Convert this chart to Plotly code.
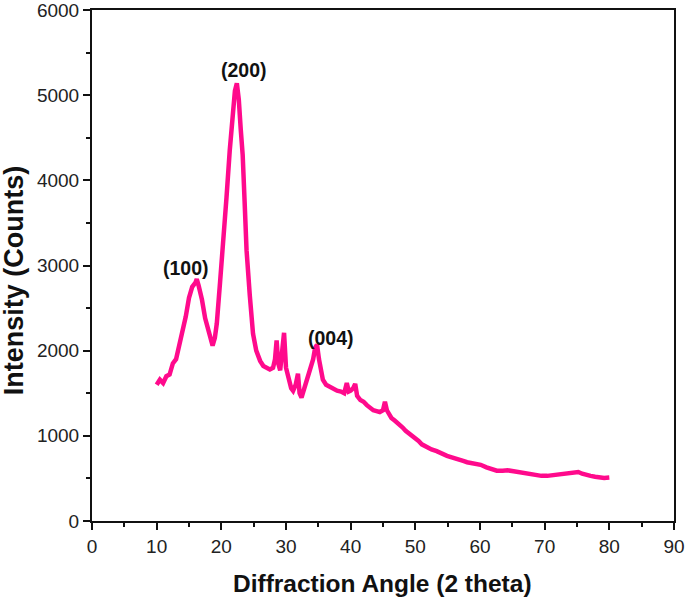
import plotly.graph_objects as go

two_theta = [10.0, 10.5, 11.0, 11.5, 12.0, 12.5, 13.0, 13.5, 14.0, 14.5, 15.0, 15.5, 16.0, 16.2, 16.5,
             17.0, 17.5, 18.0, 18.3, 18.65, 19.0, 19.3, 19.8, 20.3, 20.8, 21.3, 21.8, 22.1, 22.4, 22.7,
             23.0, 23.3, 23.6, 23.9, 24.4, 24.9, 25.4, 26.0, 26.5, 27.0, 27.5, 28.0, 28.3, 28.55, 28.8,
             29.1, 29.4, 29.7, 30.0, 30.4, 30.8, 31.1, 31.5, 31.85, 32.1, 32.4, 32.8, 33.2, 33.7, 34.2,
             34.5, 34.8, 35.1, 35.4, 35.7, 36.2, 36.8, 37.4, 37.9, 38.5, 39.0, 39.4, 39.7, 40.0, 40.4,
             40.7, 41.0, 41.5, 42.0, 42.5, 43.0, 43.5, 44.0, 44.5, 45.0, 45.3, 45.6, 45.9, 46.3, 46.8,
             47.5, 48.0, 48.5, 49.0, 49.7, 50.5, 51.0, 51.8, 52.5, 53.3, 54.0, 54.9, 55.5, 56.5, 57.4,
             58.0, 59.0, 60.1, 61.0, 62.0, 62.6, 63.5, 64.3, 65.2, 66.0, 66.8, 67.8, 68.5, 69.5, 70.4,
             71.5, 72.2, 72.9, 73.5, 74.3, 75.2, 75.8, 76.5, 77.1, 77.8, 78.5, 79.2, 80.0]

intensity = [1600, 1660, 1620, 1700, 1720, 1850, 1900, 2050, 2200, 2400, 2620, 2750, 2800, 2840, 2760,
             2600, 2380, 2230, 2120, 2060, 2150, 2320, 2800, 3260, 3800, 4350, 4800, 5050, 5140, 4950,
             4600, 4300, 3750, 3180, 2650, 2200, 2000, 1880, 1820, 1800, 1780, 1800, 1900, 2120, 1850,
             1770, 1950, 2210, 1800, 1650, 1560, 1530, 1600, 1730, 1500, 1450, 1560, 1640, 1760, 1900,
             2030, 2070, 1900, 1750, 1660, 1600, 1570, 1540, 1530, 1520, 1500, 1620, 1520, 1530, 1560,
             1610, 1470, 1420, 1400, 1360, 1330, 1300, 1290, 1280, 1300, 1400, 1300, 1250, 1210, 1180,
             1140, 1100, 1060, 1030, 1000, 940, 900, 860, 840, 820, 790, 765, 750, 720, 705,
             690, 680, 660, 630, 600, 590, 590, 595, 585, 575, 555, 540, 535, 530, 530,
             540, 550, 556, 560, 565, 575, 555, 535, 530, 520, 510, 505, 510]

peak_labels = ["(100)", "(200)", "(004)"]
peak_x = [14.5, 23.5, 36.95]
peak_y = [2970, 5300, 2150]

x_ticks = [0, 10, 20, 30, 40, 50, 60, 70, 80, 90]
y_ticks = [0, 1000, 2000, 3000, 4000, 5000, 6000]

FONT = "Liberation Sans, Arial, sans-serif"

fig = go.Figure()
fig.add_trace(go.Scatter(x=two_theta, y=intensity, mode="lines",
                         line=dict(color="#FF0A8C", width=4.5), showlegend=False))

for lab, px, py in zip(peak_labels, peak_x, peak_y):
    fig.add_annotation(x=px, y=py, text="<b>%s</b>" % lab, showarrow=False,
                       font=dict(family=FONT, size=19.5, color="#111111"))

# axis titles
fig.add_annotation(xref="paper", yref="paper", x=0.499, y=-0.122,
                   text="<b>Diffraction Angle (2 theta)</b>", showarrow=False,
                   xanchor="center", yanchor="middle",
                   font=dict(family=FONT, size=24.5, color="#111111"))
fig.add_annotation(xref="paper", yref="paper", x=-0.134, y=0.471,
                   text="<b>Intensity (Counts)</b>", showarrow=False, textangle=-90,
                   xanchor="center", yanchor="middle",
                   font=dict(family=FONT, size=27, color="#111111"))

axis_common = dict(showgrid=False, zeroline=False, showline=True, linecolor="#111111",
                   linewidth=2, mirror=True, ticks="outside", ticklen=7, tickwidth=2,
                   tickcolor="#111111", automargin=False, ticklabeloverflow="allow",
                   tickfont=dict(family=FONT, size=19, color="#222222"))

fig.update_xaxes(range=[0, 90], tickvals=x_ticks,
                 minor=dict(dtick=5, ticks="outside", ticklen=4, tickwidth=2, tickcolor="#111111"),
                 **axis_common)
fig.update_yaxes(range=[0, 6000], tickvals=y_ticks,
                 minor=dict(dtick=500, ticks="outside", ticklen=4, tickwidth=2, tickcolor="#111111"),
                 **axis_common)

fig.update_layout(width=685, height=605, plot_bgcolor="white", paper_bgcolor="white",
                  margin=dict(l=92, r=11, t=10, b=84))

fig.write_html("out.html", config={"displayModeBar": False},
               post_script="document.body.style.margin='0';document.body.style.overflow='hidden';")
